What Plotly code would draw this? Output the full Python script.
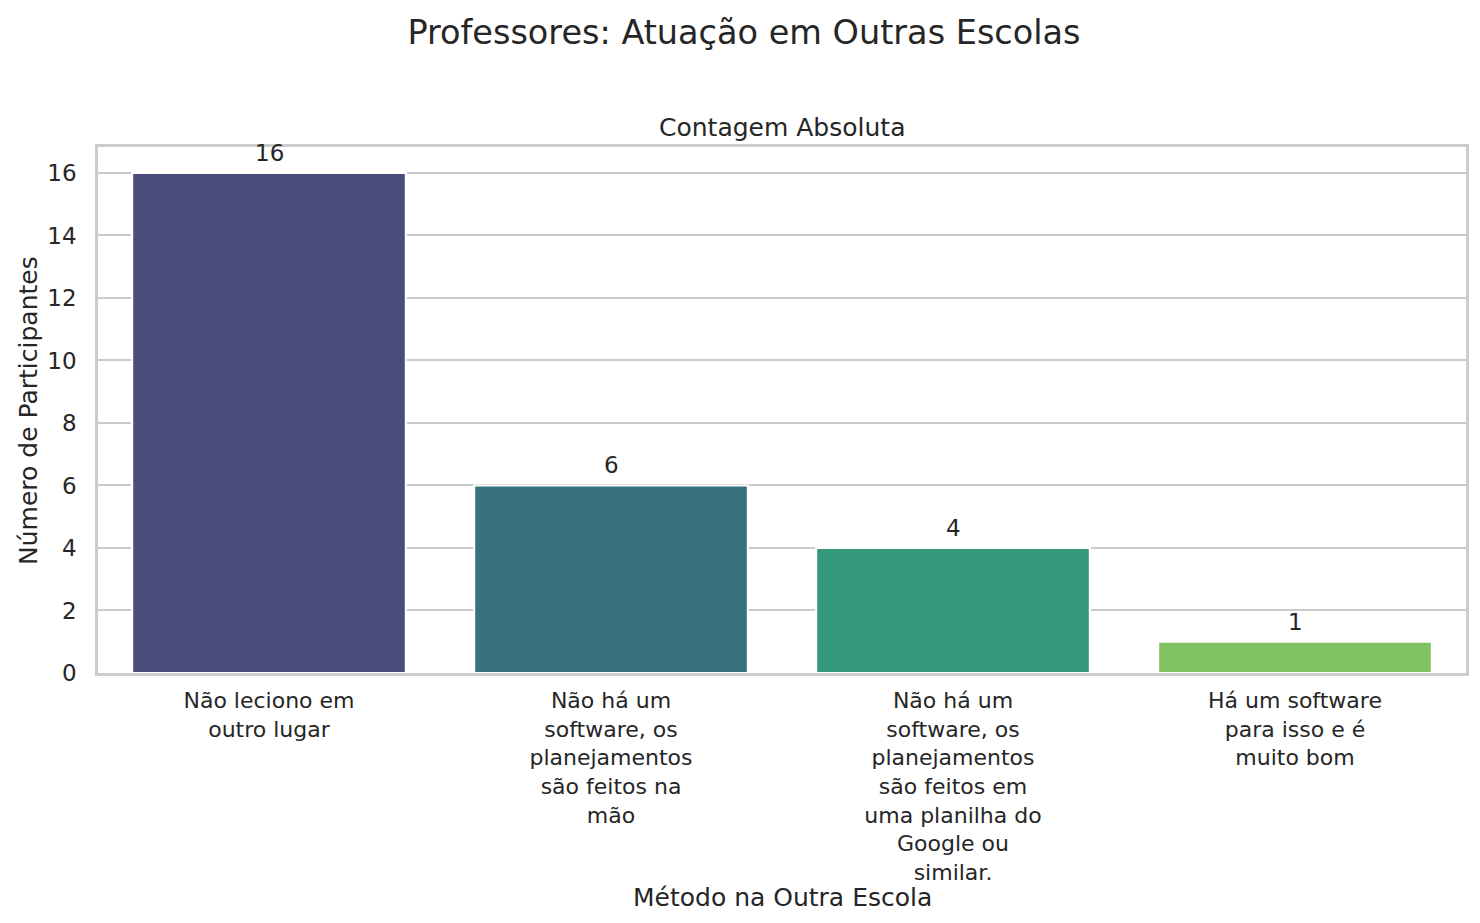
import plotly.graph_objects as go

categories = [
    "Não leciono em<br>outro lugar",
    "Não há um<br>software, os<br>planejamentos<br>são feitos na<br>mão",
    "Não há um<br>software, os<br>planejamentos<br>são feitos em<br>uma planilha do<br>Google ou<br>similar.",
    "Há um software<br>para isso e é<br>muito bom",
]
counts = [16, 6, 4, 1]
bar_colors = ["#4a4c7b", "#377180", "#35987c", "#80c262"]
y_ticks = [0, 2, 4, 6, 8, 10, 12, 14, 16]

TXT = "#262626"
GRID = "#cccccc"
FONT = "DejaVu Sans"

W, H = 1472, 915  # page body margin of 8px is compensated

fig = go.Figure()
fig.add_trace(go.Bar(
    x=categories,
    y=counts,
    width=0.8,
    marker=dict(color=bar_colors, line=dict(color="white", width=2)),
    showlegend=False,
    hoverinfo="skip",
))

for c, v in zip(categories, counts):
    fig.add_annotation(
        x=c, y=v, xref="x", yref="y",
        text=str(v), showarrow=False,
        yanchor="bottom", yshift=5,
        font=dict(family=FONT, size=23, color=TXT),
    )

fig.add_annotation(
    x=0.5, y=1.0, xref="paper", yref="paper",
    text="Contagem Absoluta", showarrow=False,
    yanchor="bottom", yshift=3,
    font=dict(family=FONT, size=25, color=TXT),
)
fig.add_annotation(
    x=0.5, y=-0.4260, xref="paper", yref="paper",
    text="Método na Outra Escola", showarrow=False,
    yanchor="middle",
    font=dict(family=FONT, size=25, color=TXT),
)
fig.add_annotation(
    x=-0.0512, y=0.5, xref="paper", yref="paper",
    text="Número de Participantes", showarrow=False,
    textangle=-90, xanchor="center", yanchor="middle",
    font=dict(family=FONT, size=25, color=TXT),
)

fig.update_layout(
    width=W, height=H,
    margin=dict(l=90, r=14, t=139, b=250, autoexpand=False),
    paper_bgcolor="white", plot_bgcolor="white",
    font=dict(family=FONT, color=TXT),
    title=dict(
        text="Professores: Atuação em Outras Escolas",
        x=0.5, xanchor="center", y=1 - 24 / H, yanchor="middle",
        font=dict(family=FONT, size=33.5, color=TXT),
    ),
    bargap=0.2,
)
fig.update_xaxes(
    range=[-0.5, 3.5],
    showgrid=False,
    showline=True, linecolor=GRID, linewidth=2.5, mirror=True,
    ticks="", ticklabelstandoff=6,
    tickfont=dict(family=FONT, size=22, color=TXT),
    tickangle=0,
)
fig.update_yaxes(
    range=[0, 16.83],
    tickvals=y_ticks,
    showgrid=True, gridcolor=GRID, gridwidth=1.8,
    zeroline=False,
    showline=True, linecolor=GRID, linewidth=2.5, mirror=True,
    ticks="", ticklabelstandoff=14,
    tickfont=dict(family=FONT, size=23, color=TXT),
)

fig.write_html("out.html")
